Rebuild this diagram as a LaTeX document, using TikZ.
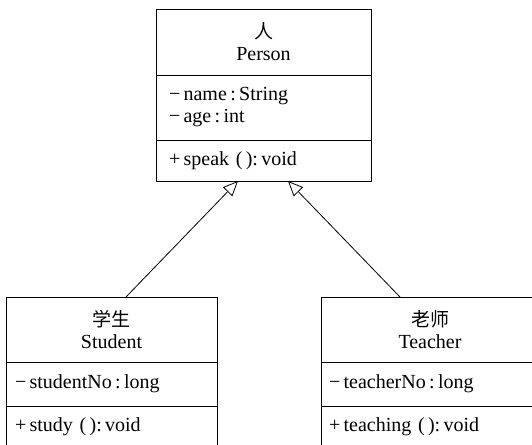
\documentclass[tikz,border=0pt]{standalone}
\usepackage{fontspec}
\setmainfont{Liberation Serif}
\newfontfamily\cjkfont{Noto Sans CJK SC}
\usetikzlibrary{arrows.meta, positioning}

\begin{document}
\begin{tikzpicture}[
    x=1pt, y=-1pt,
    node distance=0pt,
    part/.style={
        draw,
        line width=0.9pt,
        outer sep=0pt,
        inner ysep=0pt,
        font=\fontsize{20}{22}\selectfont
    },
    title/.style={part, align=center, anchor=north},
    member/.style={part, align=left},
    inherit/.style={-{Triangle[open, length=15pt, width=13pt]}, line width=0.8pt}
]
\useasboundingbox (0,0) rectangle (532,444);
\clip (0,0) rectangle (532,444);

% Person
\node[title, inner xsep=13pt, text width=189pt, minimum height=66pt] (pertitle) at (263.5,9)
    {{\cjkfont\fontsize{19}{22}\selectfont 人}\\Person};
\node[member, inner xsep=13pt, text width=189pt, minimum height=65pt, below=of pertitle] (perattr)
    {−\,name\,:\,String\\−\,age\,:\,int};
\node[member, inner xsep=13pt, text width=189pt, minimum height=41pt, below=of perattr] (perops)
    {+\,speak (\,):\,void};

% Student
\node[title, inner xsep=9pt, text width=193pt, minimum height=65pt] (stutitle) at (111.5,297)
    {{\cjkfont\fontsize{19}{22}\selectfont 学生}\\Student};
\node[member, inner xsep=9pt, text width=193pt, minimum height=44pt, below=of stutitle] (stuattr)
    {−\,studentNo\,:\,long};
\node[member, inner xsep=9pt, text width=193pt, minimum height=42pt, below=of stuattr] (stuops)
    {+\,study (\,):\,void};

% Teacher
\node[title, inner xsep=8pt, text width=202pt, minimum height=65pt] (teatitle) at (430,297)
    {{\cjkfont\fontsize{19}{22}\selectfont 老师}\\Teacher};
\node[member, inner xsep=8pt, text width=202pt, minimum height=44pt, below=of teatitle] (teaattr)
    {−\,teacherNo\,:\,long};
\node[member, inner xsep=8pt, text width=202pt, minimum height=42pt, below=of teaattr] (teaops)
    {+\,teaching (\,):\,void};

\draw[inherit] ([xshift=14.5pt]stutitle.north) -- ([xshift=-25.5pt]perops.south);
\draw[inherit] ([xshift=-30pt]teatitle.north) -- ([xshift=24.5pt]perops.south);
\end{tikzpicture}
\end{document}
